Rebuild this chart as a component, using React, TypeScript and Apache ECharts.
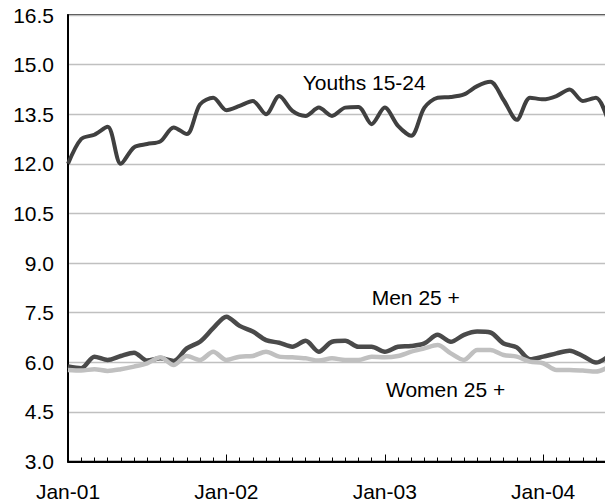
import React, { useEffect, useRef } from "react";
import * as echarts from "echarts";

const months = [
  "Jan-01", "Feb-01", "Mar-01", "Apr-01", "May-01", "Jun-01", "Jul-01", "Aug-01", "Sep-01", "Oct-01", "Nov-01", "Dec-01",
  "Jan-02", "Feb-02", "Mar-02", "Apr-02", "May-02", "Jun-02", "Jul-02", "Aug-02", "Sep-02", "Oct-02", "Nov-02", "Dec-02",
  "Jan-03", "Feb-03", "Mar-03", "Apr-03", "May-03", "Jun-03", "Jul-03", "Aug-03", "Sep-03", "Oct-03", "Nov-03", "Dec-03",
  "Jan-04", "Feb-04", "Mar-04", "Apr-04", "May-04", "Jun-04",
];

const youths = [
  12.0, 12.75, 12.88, 13.12, 12.0, 12.5, 12.6, 12.68, 13.1, 12.9, 13.8, 14.0,
  13.62, 13.75, 13.9, 13.5, 14.05, 13.6, 13.45, 13.7, 13.45, 13.7, 13.72, 13.2,
  13.7, 13.15, 12.85, 13.7, 14.0, 14.02, 14.1, 14.35, 14.48, 13.93, 13.33, 14.0,
  13.95, 14.05, 14.25, 13.9, 14.0, 13.2,
];

const men = [
  5.87, 5.82, 6.17, 6.07, 6.19, 6.29, 6.05, 6.12, 6.04, 6.42, 6.62, 7.03,
  7.38, 7.1, 6.93, 6.67, 6.59, 6.47, 6.65, 6.32, 6.62, 6.65, 6.47, 6.47,
  6.32, 6.47, 6.49, 6.57, 6.83, 6.62, 6.83, 6.93, 6.9, 6.57, 6.45, 6.09,
  6.17, 6.27, 6.35, 6.19, 5.99, 6.2,
];

const women = [
  5.77, 5.75, 5.79, 5.74, 5.79, 5.87, 5.97, 6.15, 5.92, 6.19, 6.07, 6.32,
  6.07, 6.17, 6.19, 6.32, 6.17, 6.15, 6.12, 6.05, 6.12, 6.07, 6.07, 6.17,
  6.15, 6.19, 6.32, 6.42, 6.52, 6.27, 6.07, 6.37, 6.37, 6.22, 6.17, 6.02,
  5.97, 5.77, 5.77, 5.75, 5.72, 5.87,
];

const yMin = 3.0;
const yMax = 16.5;
const yStep = 1.5;

const seriesNames = ["Youths 15-24", "Men 25 +", "Women 25 +"];

const FONT = "'Liberation Sans', Arial, sans-serif";

export default function App() {
  const ref = useRef<HTMLDivElement>(null);

  useEffect(() => {
    if (!ref.current) return;
    const chart = echarts.init(ref.current, null, { renderer: "svg" });
    const isJan = (i: number) => i % 12 === 0;
    chart.setOption({
      animation: false,
      backgroundColor: "#fff",
      grid: {
        left: 68,
        top: 15,
        right: 5.8,
        bottom: 42.5,
        show: true,
        borderColor: "#000",
        borderWidth: 1.5,
        backgroundColor: "transparent",
      },
      xAxis: [
        {
          type: "category",
          data: months,
          boundaryGap: false,
          position: "bottom",
          axisLine: { show: true, lineStyle: { color: "#000", width: 2 } },
          axisTick: { show: true, inside: true, length: 4, interval: 0, lineStyle: { color: "#000", width: 1 } },
          axisLabel: {
            interval: (i: number) => isJan(i),
            color: "#000",
            fontSize: 21,
            fontFamily: FONT,
            margin: 19,
          },
          splitLine: { show: false },
        },
        {
          type: "category",
          data: months,
          boundaryGap: false,
          position: "bottom",
          axisLine: { show: false },
          axisTick: { show: true, inside: true, length: 7, interval: (i: number) => isJan(i), lineStyle: { color: "#000", width: 1 } },
          axisLabel: { show: false },
          splitLine: { show: false },
        },
      ],
      yAxis: {
        type: "value",
        min: yMin,
        max: yMax,
        interval: yStep,
        axisLine: { show: true, lineStyle: { color: "#000", width: 2 } },
        axisTick: { show: false },
        axisLabel: {
          formatter: (v: number) => v.toFixed(1),
          color: "#000",
          fontSize: 21,
          fontFamily: FONT,
          margin: 14,
        },
        splitLine: { show: true, lineStyle: { color: "#c0c0c0", width: 1.3 } },
      },
      series: [
        {
          name: seriesNames[0],
          type: "line",
          data: youths,
          smooth: 0.3,
          symbol: "none",
          lineStyle: { color: "#404040", width: 4 },
          z: 3,
        },
        {
          name: seriesNames[1],
          type: "line",
          data: men,
          smooth: 0.3,
          symbol: "none",
          lineStyle: { color: "#4a4a4a", width: 4.5 },
          z: 3,
        },
        {
          name: seriesNames[2],
          type: "line",
          data: women,
          smooth: 0.3,
          symbol: "none",
          lineStyle: { color: "#c0c0c0", width: 4.5 },
          z: 4,
        },
      ],
      graphic: [
        {
          type: "text",
          x: 302.7,
          y: 82.5,
          style: { text: seriesNames[0], font: `21px ${FONT}`, fill: "#000", textAlign: "left", textVerticalAlign: "middle" },
        },
        {
          type: "text",
          x: 371.7,
          y: 297.5,
          style: { text: seriesNames[1], font: `21px ${FONT}`, fill: "#000", textAlign: "left", textVerticalAlign: "middle" },
        },
        {
          type: "text",
          x: 386,
          y: 389,
          style: { text: seriesNames[2], font: `21px ${FONT}`, fill: "#000", textAlign: "left", textVerticalAlign: "middle" },
        },
      ],
    });
    return () => chart.dispose();
  }, []);

  return (
    <div style={{ position: "fixed", left: 0, top: 0, width: 605, height: 504, overflow: "hidden" }}>
      <div ref={ref} style={{ width: 615, height: 504 }} />
    </div>
  );
}
